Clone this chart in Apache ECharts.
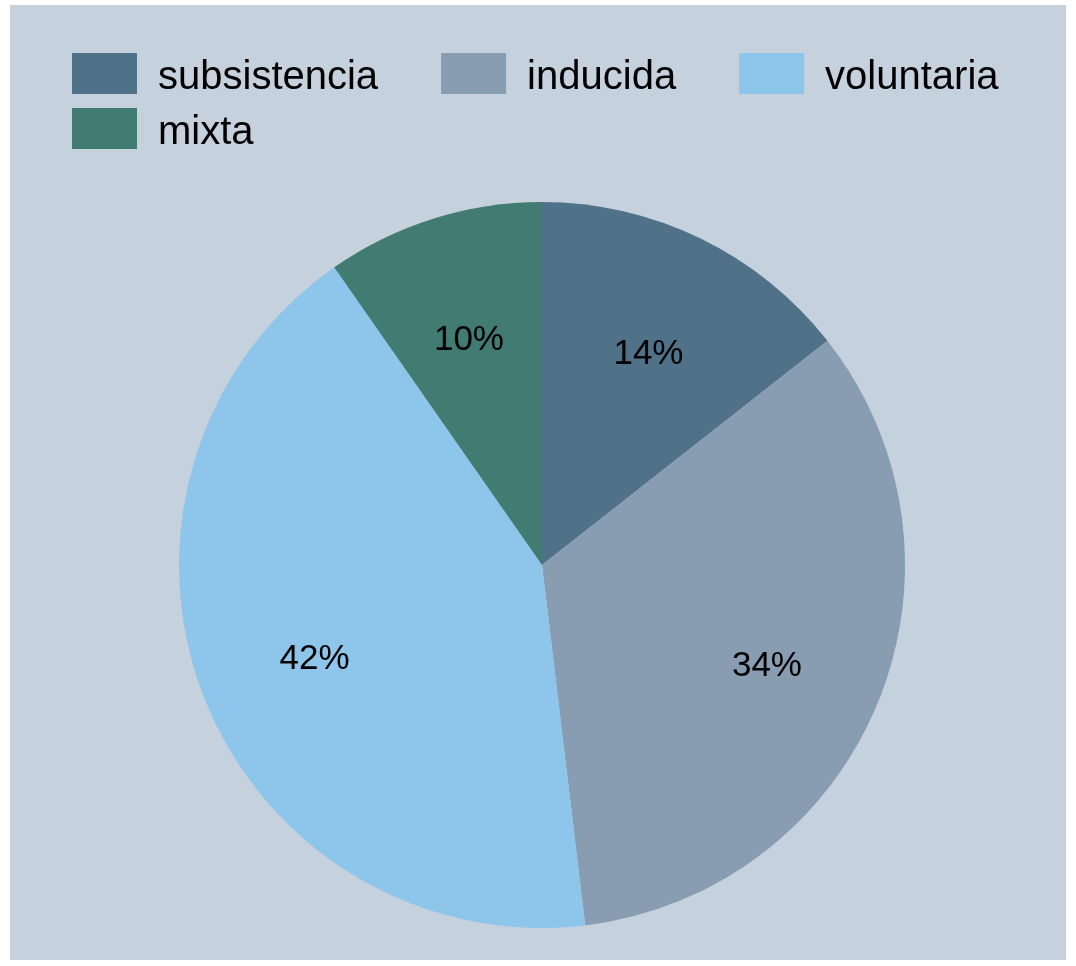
<!DOCTYPE html>
<html>
<head>
<meta charset="utf-8">
<script src="https://cdn.jsdelivr.net/npm/echarts@6/dist/echarts.min.js"></script>
<style>
  html, body { margin: 0; padding: 0; background: #ffffff; }
  #chart { position: absolute; left: 10px; top: 5px; width: 1056px; height: 955px; }
</style>
</head>
<body>
<div id="chart"></div>
<script>
// data (share of each type, %)
const categories = ['subsistencia', 'inducida', 'voluntaria', 'mixta']
const values = [14.4, 33.7, 42.2, 9.7]
const colors = ['#4f7288', '#889db1', '#8ec5ea', '#427b72']

const font = '"Liberation Sans", Arial, sans-serif'
const pieData = categories.map((name, i) => ({ name, value: values[i] }))

const chart = echarts.init(document.getElementById('chart'))

const legendBase = {
  orient: 'horizontal',
  left: 62,
  padding: 0,
  itemWidth: 65,
  itemHeight: 41,
  itemGap: 63,
  icon: 'rect',
  formatter: name => '{t|' + name + '}',
  textStyle: {
    fontFamily: font, fontSize: 40, color: '#000',
    rich: { t: { fontFamily: font, fontSize: 40, color: '#000', padding: [9, 0, 0, 16] } }
  }
}

chart.setOption({
  backgroundColor: '#c5d2de',
  color: colors,
  animation: false,
  legend: [
    Object.assign({}, legendBase, { top: 48, data: categories.slice(0, 3) }),
    Object.assign({}, legendBase, { top: 103, data: categories.slice(3) })
  ],
  series: [
    {
      name: 'pie',
      type: 'pie',
      center: [532, 560],
      radius: [0, 363],
      startAngle: 90,
      clockwise: true,
      data: pieData,
      label: { show: false },
      labelLine: { show: false },
      emphasis: { disabled: true }
    },
    {
      // transparent ring only to place labels at ~2/3 of the radius
      name: 'labels',
      type: 'pie',
      center: [532, 560],
      radius: [118, 363],
      startAngle: 90,
      clockwise: true,
      silent: true,
      data: pieData,
      itemStyle: { color: 'transparent' },
      label: {
        show: true,
        position: 'inside',
        offset: [0, 8],
        fontFamily: font,
        fontSize: 35,
        color: '#000',
        formatter: p => Math.round(p.percent) + '%'
      },
      labelLine: { show: false },
      emphasis: { disabled: true }
    }
  ]
})
</script>
</body>
</html>
